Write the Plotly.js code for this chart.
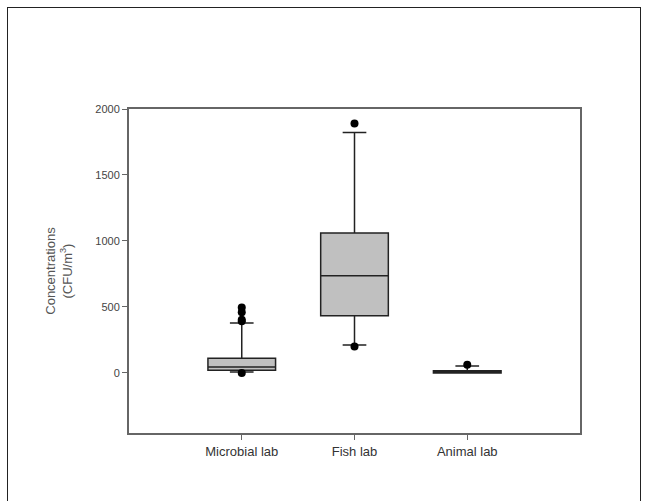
<!DOCTYPE html>
<html>
<head>
<meta charset="utf-8">
<script src="https://cdn.plot.ly/plotly-3.0.1.min.js"></script>
<style>
  html, body { margin: 0; padding: 0; background: #fff; }
  #wrap { position: relative; width: 647px; height: 501px; overflow: hidden; }
  #chart { width: 647px; height: 501px; }
  #frame { position: absolute; left: 7px; top: 7px; width: 632px; height: 520px;
           border: 1px solid #222; pointer-events: none; }
</style>
</head>
<body>
<div id="wrap">
  <div id="chart"></div>
  <div id="frame"></div>
</div>
<script>
// Categories
const categories = ["Microbial lab", "Fish lab", "Animal lab"];
// Box statistics (CFU/m^3)
const q1Values = [20, 434, 0];
const medianValues = [45, 737, 8];
const q3Values = [111, 1060, 16];
const lowerWhisker = [8, 212, 0];
const upperWhisker = [379, 1821, 53];
// Outliers
const outlierCategory = ["Microbial lab", "Microbial lab", "Microbial lab", "Microbial lab", "Microbial lab",
                         "Fish lab", "Fish lab", "Animal lab"];
const outlierValues = [495, 460, 404, 391, 0, 1891, 200, 63];
// Y-axis ticks
const yTickValues = [0, 500, 1000, 1500, 2000];

const boxTrace = {
  type: "box",
  x: categories,
  q1: q1Values,
  median: medianValues,
  q3: q3Values,
  lowerfence: lowerWhisker,
  upperfence: upperWhisker,
  width: 0.6,
  whiskerwidth: 0.35,
  fillcolor: "#c0c0c0",
  line: { color: "#222", width: 1.5 },
  boxpoints: false,
  hoverinfo: "skip",
  showlegend: false
};

const outlierTrace = {
  type: "scatter",
  mode: "markers",
  x: outlierCategory,
  y: outlierValues,
  marker: { color: "#000", size: 8, symbol: "circle" },
  hoverinfo: "skip",
  showlegend: false
};

const layout = {
  width: 647,
  height: 501,
  margin: { l: 129, r: 67, t: 109, b: 68 },
  paper_bgcolor: "#fff",
  plot_bgcolor: "#fff",
  font: { family: "Liberation Sans, Arial, sans-serif", color: "#333" },
  showlegend: false,
  xaxis: {
    type: "category",
    categoryorder: "array",
    categoryarray: categories,
    range: [-1, 3],
    showline: true, mirror: true, linecolor: "#666", linewidth: 2,
    ticks: "outside", ticklen: 5, tickcolor: "#666", tickwidth: 1,
    showgrid: false, zeroline: false,
    tickfont: { size: 13, color: "#333" },
    automargin: false
  },
  yaxis: {
    range: [-455, 2000],
    tickvals: yTickValues,
    ticktext: yTickValues.map(String),
    showline: true, mirror: true, linecolor: "#666", linewidth: 2,
    ticks: "outside", ticklen: 5, tickcolor: "#666", tickwidth: 1,
    showgrid: false, zeroline: false,
    tickfont: { size: 11, color: "#444" },
    title: { text: "Concentrations<br>(CFU/m<sup>3</sup>)", font: { size: 13, color: "#555" }, standoff: 20 },
    automargin: false
  }
};

Plotly.newPlot("chart", [boxTrace, outlierTrace], layout, { displayModeBar: false, staticPlot: true });
</script>
</body>
</html>
